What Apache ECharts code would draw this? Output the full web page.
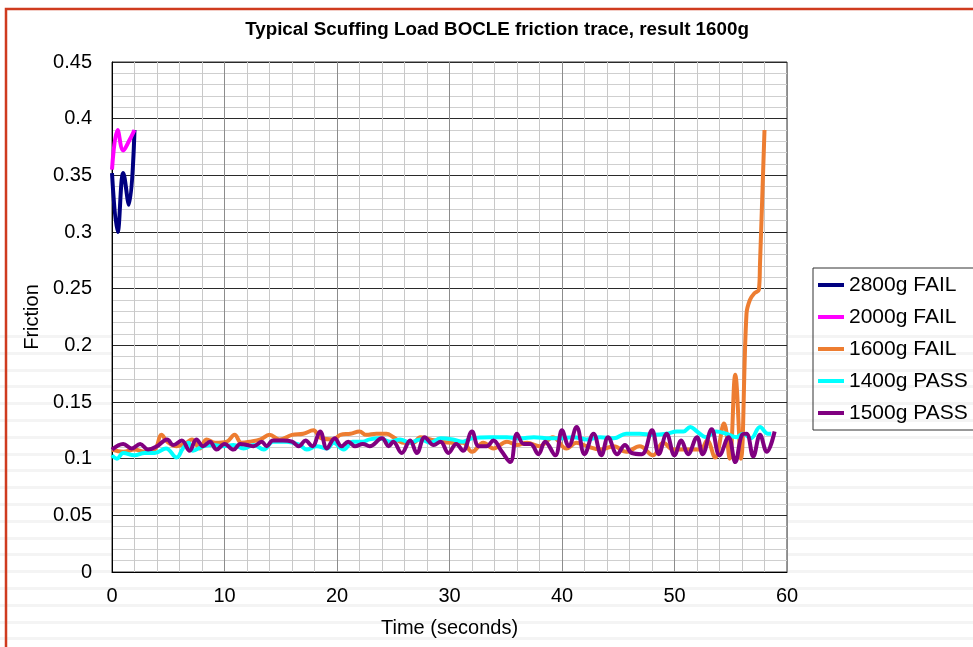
<!DOCTYPE html>
<html><head><meta charset="utf-8">
<script src="https://cdn.jsdelivr.net/npm/echarts@6/dist/echarts.min.js"></script>
<style>html,body{margin:0;padding:0;background:#fff}#c{width:973px;height:647px}</style>
</head><body><div id="c"></div>
<script>
var titleText = 'Typical Scuffing Load BOCLE friction trace, result 1600g';
var seriesNames = ['2800g FAIL', '2000g FAIL', '1600g FAIL', '1400g PASS', '1500g PASS'];
var seriesColors = ['#000080', '#ff00ff', '#ed7d31', '#00ffff', '#800080'];
var xTicks = [0, 10, 20, 30, 40, 50, 60];
var yTicks = [0, 0.05, 0.1, 0.15, 0.2, 0.25, 0.3, 0.35, 0.4, 0.45];

var t2800 = [0, 0.5, 1.0, 1.5, 2.0];
var v2800 = [0.352, 0.300, 0.352, 0.324, 0.390];
var t2000 = [0, 0.5, 1.0, 1.5, 2.0];
var v2000 = [0.355, 0.390, 0.372, 0.380, 0.390];

var t1600 = [0,1,2,2.9,3.8,4.4,4.9,5.75,6.6,7.1,7.8,8.4,9.2,10.2,10.9,11.5,12.3,13.2,14.0,14.9,16.0,17.0,17.9,18.6,19.7,20.3,21.2,22.0,22.6,23.5,24.4,25.0,25.9,26.8,27.4,28.3,29.2,30.2,31.2,32.0,33.0,33.9,35.1,36.0,36.9,38.0,39.2,40.4,41.3,42.2,43.4,44.6,45.7,46.9,48.1,49.0,49.9,51.1,52.3,52.9,53.6,54.4,54.9,55.4,55.9,56.4,56.7,57.1,57.5,57.6,58.0];
var v1600 = [0.108,0.106,0.108,0.106,0.108,0.121,0.115,0.111,0.114,0.117,0.109,0.117,0.114,0.115,0.121,0.114,0.115,0.117,0.121,0.117,0.121,0.122,0.125,0.118,0.117,0.121,0.122,0.124,0.121,0.122,0.122,0.119,0.114,0.114,0.119,0.117,0.115,0.114,0.114,0.106,0.114,0.109,0.115,0.112,0.114,0.111,0.119,0.109,0.114,0.111,0.108,0.111,0.106,0.111,0.103,0.114,0.108,0.108,0.108,0.116,0.101,0.131,0.100,0.174,0.100,0.228,0.240,0.246,0.249,0.272,0.390];

var t1400 = [0,0.44,1.0,2.0,2.9,3.8,4.8,5.75,6.3,6.8,7.2,8.1,9.0,9.9,10.8,11.7,12.6,13.5,14.3,15.5,16.7,17.3,18.2,19.1,19.7,20.6,21.4,22.3,22.9,23.8,24.7,25.6,26.5,27.4,28.3,29.2,30.3,31.2,32.0,33.6,35.1,36.3,37.5,38.9,39.8,41.0,42.2,43.4,44.6,45.7,46.9,48.1,49.3,50.2,50.8,51.4,52.0,52.8,53.7,54.6,55.5,56.1,56.8,57.6,58.3,58.6];
var v1400 = [0.103,0.100,0.105,0.103,0.105,0.105,0.109,0.101,0.109,0.114,0.107,0.111,0.112,0.111,0.112,0.109,0.112,0.108,0.115,0.115,0.112,0.108,0.111,0.109,0.114,0.108,0.115,0.115,0.117,0.118,0.115,0.117,0.114,0.117,0.114,0.118,0.117,0.115,0.118,0.119,0.119,0.118,0.119,0.118,0.118,0.119,0.117,0.119,0.118,0.122,0.122,0.121,0.122,0.124,0.124,0.128,0.124,0.119,0.124,0.122,0.119,0.122,0.118,0.128,0.122,0.122];

var t1500 = [0,1.0,1.75,2.5,3.2,4.0,4.9,5.45,6.2,6.9,7.5,8.1,8.7,9.3,10.0,10.8,11.4,12.0,12.6,13.3,13.75,14.3,15.2,16.0,16.6,17.2,17.8,18.5,19.1,19.8,20.4,21.0,21.6,22.3,22.9,24.0,24.6,25.0,25.75,26.5,27.1,27.8,28.6,29.2,29.9,30.6,31.2,32.0,32.6,33.3,33.9,34.6,35.4,36.0,36.6,37.2,37.9,38.5,39.4,40.0,40.6,41.3,42.0,42.8,43.5,44.1,44.9,45.6,46.2,47.1,48.0,48.6,49.3,50.0,50.6,51.2,52.0,52.5,53.3,54.0,54.8,55.4,56.0,56.4,57.0,57.6,58.2,58.9];
var v1500 = [0.108,0.113,0.109,0.113,0.108,0.111,0.117,0.112,0.116,0.107,0.117,0.111,0.115,0.108,0.113,0.108,0.113,0.112,0.111,0.115,0.111,0.116,0.116,0.115,0.111,0.116,0.111,0.124,0.109,0.118,0.111,0.115,0.111,0.113,0.111,0.118,0.111,0.115,0.105,0.116,0.105,0.119,0.112,0.115,0.105,0.113,0.107,0.124,0.111,0.111,0.116,0.107,0.097,0.122,0.113,0.113,0.104,0.115,0.103,0.125,0.111,0.128,0.104,0.122,0.103,0.119,0.104,0.112,0.105,0.104,0.125,0.104,0.122,0.103,0.116,0.104,0.119,0.104,0.126,0.103,0.119,0.097,0.121,0.122,0.102,0.121,0.106,0.124];

function pairs(t, v) { return t.map(function (x, i) { return [x, v[i]]; }); }
var allT = [t2800, t2000, t1600, t1400, t1500];
var allV = [v2800, v2000, v1600, v1400, v1500];

var stripes = [];
for (var y = 335; y < 647; y += 16.8) {
  stripes.push({ type: 'rect', z: -10, shape: { x: 0, y: Math.round(y), width: 973, height: 3 }, style: { fill: '#f4f4f4' } });
}
stripes.push({ type: 'rect', z: 100, shape: { x: 6, y: 9, width: 1000, height: 700 }, style: { fill: 'none', stroke: '#cf3b1f', lineWidth: 2.5 } });

var chart = echarts.init(document.getElementById('c'), null, { renderer: 'canvas' });
chart.setOption({
  animation: false,
  backgroundColor: 'transparent',
  graphic: stripes,
  title: {
    text: titleText, left: 497, top: 20, textAlign: 'center', padding: 0,
    textStyle: { fontFamily: 'Liberation Sans, Arial, sans-serif', fontSize: 18.8, fontWeight: 'bold', color: '#000' }
  },
  grid: { left: 112, right: 186, top: 62, bottom: 75, show: true, backgroundColor: '#fff', borderColor: '#333', borderWidth: 1 },
  legend: {
    orient: 'vertical', left: 813, top: 268, padding: [6, 12, 6, 5], itemGap: 10,
    itemWidth: 26, itemHeight: 4, icon: 'rect',
    borderColor: '#333', borderWidth: 1, backgroundColor: 'transparent',
    textStyle: { fontFamily: 'Liberation Sans, Arial, sans-serif', fontSize: 21, color: '#000', lineHeight: 22 },
    data: seriesNames
  },
  xAxis: {
    type: 'value', min: xTicks[0], max: xTicks[xTicks.length - 1], interval: 10,
    name: 'Time (seconds)', nameLocation: 'middle', nameGap: 46,
    nameTextStyle: { fontFamily: 'Liberation Sans, Arial, sans-serif', fontSize: 20, color: '#000' },
    axisLine: { show: true, onZero: false, lineStyle: { color: '#000', width: 1 } },
    axisTick: { show: false },
    axisLabel: { margin: 14, fontFamily: 'Liberation Sans, Arial, sans-serif', fontSize: 20, color: '#000' },
    splitLine: { show: true, lineStyle: { color: '#8c8c8c', width: 1 } },
    minorTick: { show: false, splitNumber: 5 },
    minorSplitLine: { show: true, lineStyle: { color: '#c8c8c8', width: 1 } }
  },
  yAxis: {
    type: 'value', min: yTicks[0], max: yTicks[yTicks.length - 1], interval: 0.05,
    name: 'Friction', nameLocation: 'middle', nameGap: 63, nameRotate: 90,
    nameTextStyle: { fontFamily: 'Liberation Sans, Arial, sans-serif', fontSize: 20, color: '#000' },
    axisLine: { show: true, lineStyle: { color: '#000', width: 1 } },
    axisTick: { show: false },
    axisLabel: { margin: 20, fontFamily: 'Liberation Sans, Arial, sans-serif', fontSize: 20, color: '#000',
      formatter: function (v) { return String(+v.toFixed(2)); } },
    splitLine: { show: true, lineStyle: { color: '#2a2a2a', width: 1 } },
    minorTick: { show: false, splitNumber: 5 },
    minorSplitLine: { show: true, lineStyle: { color: '#cfcfcf', width: 1 } }
  },
  series: seriesNames.map(function (n, i) {
    return {
      name: n, type: 'line', data: pairs(allT[i], allV[i]), smooth: 0.4,
      showSymbol: false, symbol: 'none', clip: true,
      lineStyle: { color: seriesColors[i], width: 4 }, itemStyle: { color: seriesColors[i] }
    };
  })
});
</script></body></html>
